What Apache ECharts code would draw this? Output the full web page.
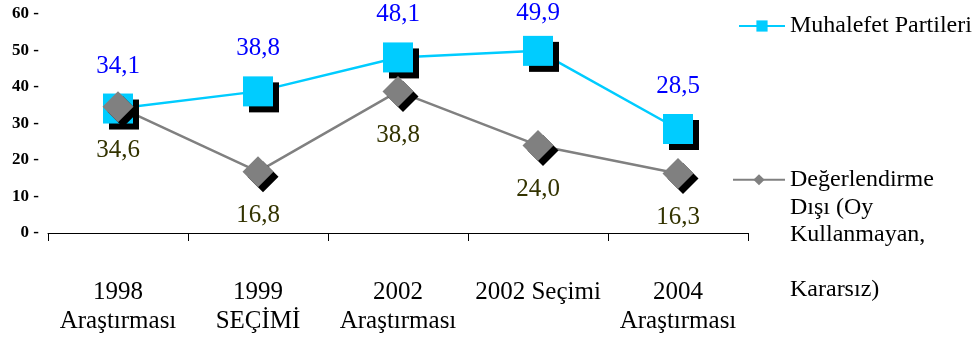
<!DOCTYPE html>
<html>
<head>
<meta charset="utf-8">
<script src="https://cdn.jsdelivr.net/npm/echarts@6/dist/echarts.min.js"></script>
<style>
  html, body { margin: 0; padding: 0; background: #ffffff; }
  #chart { width: 978px; height: 342px; }
</style>
</head>
<body>
<div id="chart"></div>
<script>
// categories on the x axis
var categories = ['1998\nAraştırması', '1999\nSEÇİMİ', '2002\nAraştırması', '2002 Seçimi', '2004\nAraştırması'];
// series names
var nameMuhalefet = 'Muhalefet Partileri';
var nameDisi = 'Değerlendirme\nDışı (Oy\nKullanmayan,\n\nKararsız)';
// values (%)
var muhalefet = [34.1, 38.8, 48.1, 49.9, 28.5];
var disi = [34.6, 16.8, 38.8, 24.0, 16.3];

function fmt(p) {
  return p.value.toFixed(1).replace('.', ',');
}

// keep value labels from running off the top edge
function keepInside(p) {
  if (p.labelRect.y < 1) {
    return { dy: 1 - p.labelRect.y };
  }
}

var chart = echarts.init(document.getElementById('chart'), null, { renderer: 'canvas' });

var serif = '"Liberation Serif", "Times New Roman", serif';

var option = {
  backgroundColor: '#ffffff',
  animation: false,
  grid: { left: 48, right: 230, top: 14, bottom: 109 },
  legend: [
    {
      data: [nameMuhalefet],
      left: 738,
      top: 14,
      padding: 0,
      itemWidth: 46,
      itemHeight: 14,
      textStyle: { fontFamily: serif, fontSize: 24, color: '#000' },
      itemStyle: { shadowColor: 'transparent', shadowOffsetX: 0, shadowOffsetY: 0 }
    },
    {
      data: [nameDisi],
      left: 732,
      top: 56,
      padding: 0,
      itemWidth: 52,
      itemHeight: 14,
      // blank lines on top so the icon sits beside the first line
      formatter: function (name) { return '\n\n\n\n' + name; },
      textStyle: { fontFamily: serif, fontSize: 24, color: '#000', lineHeight: 27.5 },
      itemStyle: { shadowColor: 'transparent', shadowOffsetX: 0, shadowOffsetY: 0 }
    }
  ],
  xAxis: {
    type: 'category',
    data: categories,
    boundaryGap: true,
    axisLine: { lineStyle: { color: '#000', width: 1 } },
    axisTick: { show: true, length: 8, lineStyle: { color: '#000' } },
    axisLabel: {
      color: '#000', fontFamily: serif, fontSize: 25, lineHeight: 29,
      margin: 45, interval: 0
    }
  },
  yAxis: {
    type: 'value',
    min: 0,
    max: 60,
    interval: 10,
    axisLine: { show: false },
    axisTick: { show: false },
    splitLine: { show: false },
    axisLabel: {
      color: '#000', fontFamily: serif, fontSize: 17, fontWeight: 'bold',
      margin: 9,
      formatter: function (v) { return v + ' -'; }
    }
  },
  series: [
    {
      name: nameMuhalefet,
      type: 'line',
      data: muhalefet,
      symbol: 'rect',
      symbolSize: 30,
      lineStyle: { color: '#00CCFF', width: 2.5 },
      itemStyle: {
        color: '#00CCFF',
        shadowColor: '#000', shadowBlur: 0, shadowOffsetX: 6, shadowOffsetY: 6
      },
      label: {
        show: true, position: 'top', distance: 15,
        color: '#0000FF', fontFamily: serif, fontSize: 25,
        formatter: fmt
      },
      labelLayout: keepInside
    },
    {
      name: nameDisi,
      type: 'line',
      data: disi,
      symbol: 'diamond',
      symbolSize: 31,
      lineStyle: { color: '#808080', width: 2.5 },
      itemStyle: {
        color: '#808080',
        shadowColor: '#000', shadowBlur: 0, shadowOffsetX: 5, shadowOffsetY: 5
      },
      label: {
        show: true, position: 'bottom', distance: 16,
        color: '#333300', fontFamily: serif, fontSize: 25,
        formatter: fmt
      }
    }
  ]
};

chart.setOption(option);
</script>
</body>
</html>
